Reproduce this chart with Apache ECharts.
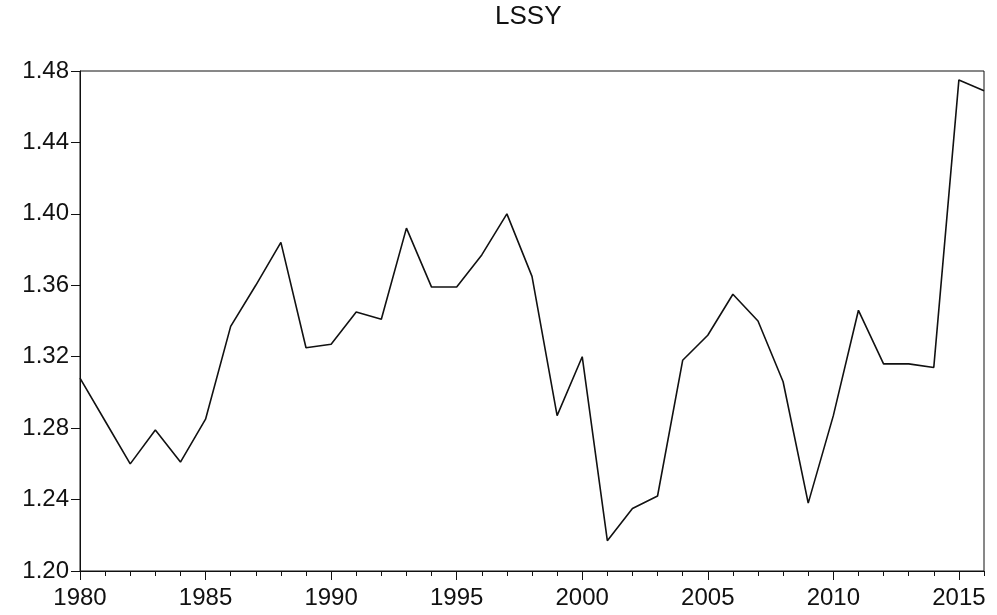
<!DOCTYPE html>
<html>
<head>
<meta charset="utf-8">
<script src="https://cdn.jsdelivr.net/npm/echarts@6/dist/echarts.min.js"></script>
<style>
  html, body { margin: 0; padding: 0; background: #fff; }
  #chart { width: 997px; height: 615px; }
</style>
</head>
<body>
<div id="chart"></div>
<script>
// years on the x axis
const years = [];
for (let y = 1980; y <= 2016; y++) years.push(String(y));

// LSSY values
const lssy = [
  1.308, 1.284, 1.260, 1.279, 1.261, 1.285, 1.337, 1.360, 1.384, 1.325,
  1.327, 1.345, 1.341, 1.392, 1.359, 1.359, 1.377, 1.400, 1.365, 1.287,
  1.320, 1.217, 1.235, 1.242, 1.318, 1.332, 1.355, 1.340, 1.306, 1.238,
  1.287, 1.346, 1.316, 1.316, 1.314, 1.475, 1.469
];

const chart = echarts.init(document.getElementById('chart'));

const labelFont = {
  color: '#111',
  fontFamily: 'Liberation Sans, Arial, sans-serif',
  fontSize: 24
};

chart.setOption({
  animation: false,
  backgroundColor: '#fff',
  title: {
    text: 'LSSY',
    left: 490,
    top: -1,
    textStyle: {
      color: '#111',
      fontFamily: 'Liberation Sans, Arial, sans-serif',
      fontSize: 26,
      fontWeight: 'normal'
    }
  },
  grid: {
    left: 80,
    right: 13,
    top: 71,
    bottom: 44,
    show: true,
    borderColor: '#111',
    borderWidth: 1
  },
  xAxis: [
    {
      // yearly small ticks
      type: 'category',
      data: years,
      boundaryGap: false,
      axisLine: { lineStyle: { color: '#111', width: 1 } },
      axisTick: { show: true, interval: 0, length: 5, lineStyle: { color: '#111' } },
      axisLabel: { show: false },
      splitLine: { show: false }
    },
    {
      // 5-year ticks and labels
      type: 'category',
      data: years,
      boundaryGap: false,
      position: 'bottom',
      axisLine: { show: false },
      axisTick: { show: true, interval: 4, length: 9, lineStyle: { color: '#111' } },
      axisLabel: Object.assign({ interval: 4, margin: 15 }, labelFont),
      splitLine: { show: false }
    }
  ],
  yAxis: {
    type: 'value',
    min: 1.20,
    max: 1.48,
    interval: 0.04,
    axisLine: { show: true, lineStyle: { color: '#111', width: 1 } },
    axisTick: { show: true, length: 9, lineStyle: { color: '#111' } },
    axisLabel: Object.assign({
      margin: 11,
      formatter: v => v.toFixed(2)
    }, labelFont),
    splitLine: { show: false }
  },
  series: [
    {
      name: 'LSSY',
      type: 'line',
      xAxisIndex: 0,
      data: lssy,
      showSymbol: false,
      lineStyle: { color: '#111', width: 1.6 }
    }
  ]
});
</script>
</body>
</html>
